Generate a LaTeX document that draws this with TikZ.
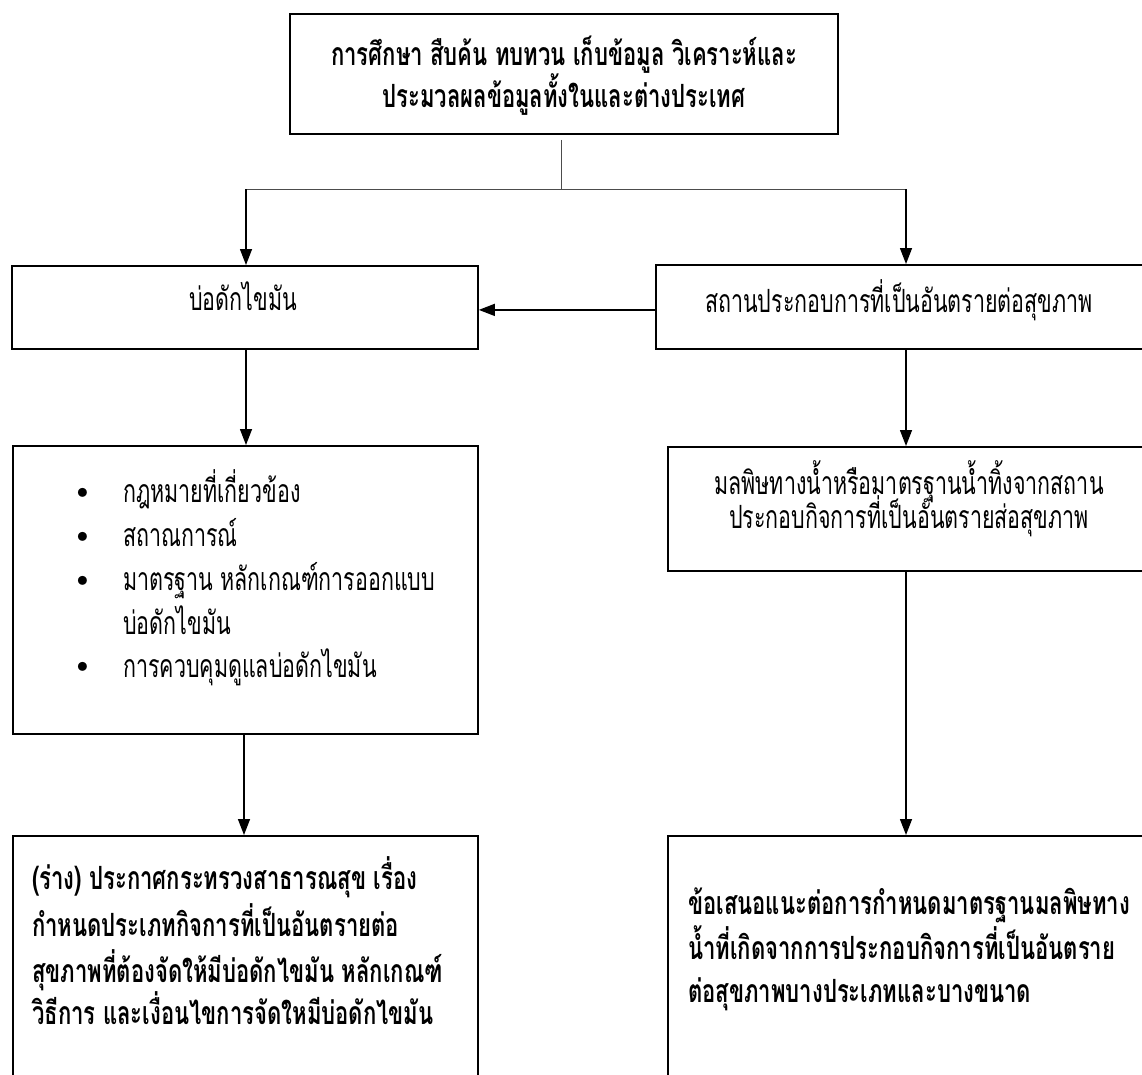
\documentclass[tikz,border=0pt]{standalone}
\usepackage{fontspec}
\newfontfamily\thai[Script=Thai,FakeStretch=0.67]{Loma}
\newfontfamily\thaib[Script=Thai,FakeStretch=0.69]{Loma}
\usetikzlibrary{arrows.meta}
\tikzset{
  box/.style={draw, line width=1.8pt, inner sep=0pt, anchor=north west},
  arr/.style={line width=1.4pt, -{Triangle[length=16pt,width=12pt]}},
  trunk/.style={line width=1pt, draw=black!70},
  tx/.style={font=\thai\fontsize{32}{36}\selectfont, inner sep=0pt, anchor=base},
  txl/.style={tx, anchor=base west},
  txb/.style={font=\thaib\bfseries\fontsize{32}{36}\selectfont, inner sep=0pt, anchor=base},
  txbl/.style={txb, anchor=base west},
  bul/.style={font=\fontsize{40}{40}\selectfont, inner sep=0pt, anchor=base},
}
\begin{document}
\begin{tikzpicture}[x=1pt,y=-1pt]
\useasboundingbox (0,0) rectangle (1142,1074);
% boxes
\node[box, minimum width=548pt, minimum height=120pt] (top) at (289,13) {};
\node[box, minimum width=466pt, minimum height=83pt] (left1) at (11,265) {};
\node[box, minimum width=495pt, minimum height=84pt] (right1) at (655,264) {};
\node[box, minimum width=465pt, minimum height=288pt] (left2) at (12,445) {};
\node[box, minimum width=483pt, minimum height=124pt] (right2) at (667,446) {};
\node[box, minimum width=465pt, minimum height=250pt] (left3) at (12,835) {};
\node[box, minimum width=483pt, minimum height=250pt] (right3) at (667,835) {};
% texts
\node[txb] (ta) at (564,65) {การศึกษา สืบค้น ทบทวน เก็บข้อมูล วิเคราะห์และ};
\node[txb] (tb) at (564,107) {ประมวลผลข้อมูลทั้งในและต่างประเทศ};
\node[tx] (l1t) at (243,310) {บ่อดักไขมัน};
\node[tx] (r1t) at (899,312) {สถานประกอบการที่เป็นอันตรายต่อสุขภาพ};
\node[tx] (r2a) at (909,494) {มลพิษทางน้ำหรือมาตรฐานน้ำทิ้งจากสถาน};
\node[tx] (r2b) at (909,528) {ประกอบกิจการที่เป็นอันตรายส่อสุขภาพ};
\node[bul] (b1) at (83,503) {\textbullet};
\node[bul] (b2) at (83,547) {\textbullet};
\node[bul] (b3) at (83,591) {\textbullet};
\node[bul] (b4) at (83,677) {\textbullet};
\node[txl] (l2a) at (123,502) {กฎหมายที่เกี่ยวข้อง};
\node[txl] (l2b) at (123,546) {สถาณการณ์};
\node[txl] (l2c) at (123,590) {มาตรฐาน หลักเกณฑ์การออกแบบ};
\node[txl] (l2d) at (123,634) {บ่อดักไขมัน};
\node[txl] (l2e) at (123,677) {การควบคุมดูแลบ่อดักไขมัน};
\node[txbl] (l3a) at (32,889) {(ร่าง) ประกาศกระทรวงสาธารณสุข เรื่อง};
\node[txbl] (l3b) at (32,936) {กำหนดประเภทกิจการที่เป็นอันตรายต่อ};
\node[txbl] (l3c) at (32,982) {สุขภาพที่ต้องจัดให้มีบ่อดักไขมัน หลักเกณฑ์};
\node[txbl] (l3d) at (32,1024) {วิธีการ และเงื่อนไขการจัดใหมีบ่อดักไขมัน};
\node[txbl] (r3a) at (688,914) {ข้อเสนอแนะต่อการกำหนดมาตรฐานมลพิษทาง};
\node[txbl] (r3b) at (688,959) {น้ำที่เกิดจากการประกอบกิจการที่เป็นอันตราย};
\node[txbl] (r3c) at (688,1002) {ต่อสุขภาพบางประเภทและบางขนาด};
% connectors
\coordinate (j) at (561,189);
\coordinate (jl) at (246,189);
\coordinate (jr) at (906,189);
\draw[trunk] ([yshift=-5pt]top.south -| j) -- (j);
\draw[trunk] (jl) -- (jr);
\draw[arr] (jl) -- (jl |- left1.north);
\draw[arr] (jr) -- (jr |- right1.north);
\draw[arr] ([yshift=-3pt]right1.west) -- ([yshift=-3pt]right1.west -| left1.east);
\draw[arr] (left1.south -| jl) -- (left2.north -| jl);
\draw[arr] (right1.south -| jr) -- (right2.north -| jr);
\draw[arr] (left2.south -| 244,0) -- (left3.north -| 244,0);
\draw[arr] (right2.south -| jr) -- (right3.north -| jr);
\end{tikzpicture}
\end{document}
